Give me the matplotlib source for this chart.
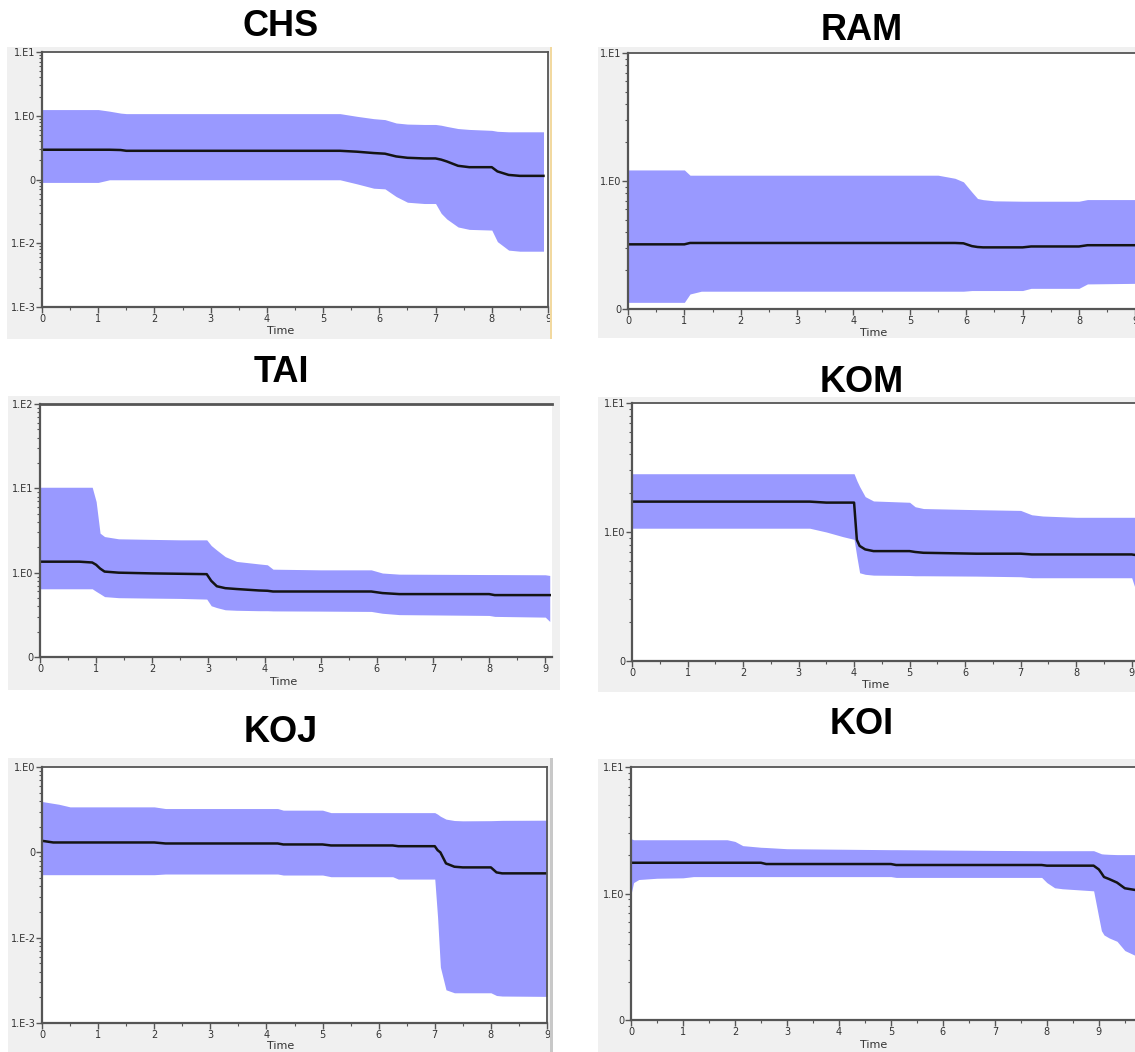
import numpy as np
import matplotlib.pyplot as plt
from matplotlib.patches import Rectangle
from matplotlib.ticker import LogLocator, NullFormatter, MultipleLocator

# ---- data ----
chs_t = [0, 1.0, 1.2, 1.4, 1.5, 5.3, 5.6, 5.9, 6.1, 6.3, 6.5, 6.8, 7.0, 7.1, 7.2, 7.4, 7.6, 8.0, 8.1, 8.3, 8.5, 8.92]
chs_upper = [1.25, 1.25, 1.18, 1.10, 1.08, 1.08, 0.98, 0.90, 0.87, 0.77, 0.74, 0.73, 0.73, 0.71, 0.68, 0.63, 0.61, 0.59, 0.57, 0.56, 0.56, 0.56]
chs_median = [0.293, 0.293, 0.293, 0.29, 0.282, 0.282, 0.273, 0.26, 0.254, 0.23, 0.219, 0.214, 0.214, 0.205, 0.192, 0.164, 0.156, 0.156, 0.134, 0.118, 0.114, 0.114]
chs_lower = [0.09, 0.09, 0.099, 0.099, 0.099, 0.099, 0.0855, 0.073, 0.0713, 0.054, 0.044, 0.042, 0.042, 0.0295, 0.024, 0.018, 0.0165, 0.0161, 0.0106, 0.0078, 0.0075, 0.0075]

ram_t = [0, 1.0, 1.1, 1.3, 5.5, 5.8, 5.95, 6.1, 6.2, 6.3, 6.5, 7.0, 7.15, 8.0, 8.15, 9.2]
ram_upper = [1.22, 1.22, 1.11, 1.11, 1.11, 1.05, 0.985, 0.82, 0.73, 0.715, 0.70, 0.695, 0.695, 0.695, 0.716, 0.716]
ram_median = [0.32, 0.32, 0.328, 0.328, 0.328, 0.328, 0.326, 0.31, 0.305, 0.303, 0.303, 0.303, 0.308, 0.308, 0.315, 0.315]
ram_lower = [0.1127, 0.1127, 0.131, 0.1377, 0.1377, 0.1377, 0.1377, 0.1394, 0.1394, 0.1394, 0.1394, 0.1394, 0.145, 0.145, 0.157, 0.159]

tai_t = [0, 0.7, 0.93, 1.0, 1.07, 1.15, 1.4, 2.0, 2.5, 2.97, 3.05, 3.15, 3.3, 3.5, 3.9, 4.05, 4.15, 5.0, 5.9, 6.1, 6.4, 8.0, 8.1, 9.0, 9.08]
tai_upper = [10.3, 10.3, 10.3, 6.97, 2.94, 2.68, 2.52, 2.48, 2.45, 2.45, 2.1, 1.85, 1.55, 1.36, 1.27, 1.24, 1.10, 1.08, 1.08, 0.99, 0.96, 0.95, 0.95, 0.944, 0.927]
tai_median = [1.35, 1.35, 1.32, 1.24, 1.12, 1.03, 1.0, 0.98, 0.97, 0.96, 0.80, 0.69, 0.655, 0.64, 0.615, 0.61, 0.598, 0.598, 0.598, 0.573, 0.557, 0.557, 0.542, 0.542, 0.542]
tai_lower = [0.644, 0.644, 0.644, 0.60, 0.562, 0.52, 0.505, 0.499, 0.495, 0.486, 0.405, 0.385, 0.363, 0.358, 0.354, 0.354, 0.352, 0.35, 0.347, 0.33, 0.318, 0.311, 0.303, 0.297, 0.264]

kom_t = [0, 3.2, 3.5, 3.8, 4.0, 4.05, 4.1, 4.2, 4.35, 5.0, 5.1, 5.25, 6.2, 7.0, 7.2, 7.4, 8.0, 9.0, 9.05, 9.15]
kom_upper = [2.83, 2.83, 2.83, 2.83, 2.83, 2.5, 2.25, 1.88, 1.74, 1.70, 1.57, 1.52, 1.49, 1.47, 1.36, 1.33, 1.30, 1.30, 1.30, 1.28]
kom_median = [1.72, 1.72, 1.69, 1.69, 1.69, 0.87, 0.78, 0.733, 0.711, 0.711, 0.70, 0.69, 0.679, 0.679, 0.67, 0.67, 0.67, 0.67, 0.665, 0.659]
kom_lower = [1.07, 1.07, 1.0, 0.92, 0.877, 0.643, 0.483, 0.47, 0.463, 0.46, 0.458, 0.458, 0.455, 0.45, 0.442, 0.442, 0.442, 0.442, 0.38, 0.26]

koj_t = [0, 0.2, 0.3, 0.5, 2.0, 2.2, 4.2, 4.3, 5.0, 5.15, 6.25, 6.35, 7.0, 7.05, 7.1, 7.2, 7.35, 7.5, 8.0, 8.1, 8.2, 9.0]
koj_upper = [0.394, 0.375, 0.366, 0.341, 0.341, 0.326, 0.326, 0.312, 0.312, 0.292, 0.292, 0.292, 0.292, 0.28, 0.265, 0.245, 0.236, 0.234, 0.235, 0.236, 0.237, 0.238]
koj_median = [0.1365, 0.1305, 0.1305, 0.1305, 0.1305, 0.127, 0.127, 0.1237, 0.1237, 0.1204, 0.1204, 0.118, 0.118, 0.106, 0.0998, 0.0742, 0.0678, 0.0666, 0.0666, 0.0582, 0.0567, 0.0567]
koj_lower = [0.0547, 0.0547, 0.0547, 0.0547, 0.0547, 0.0557, 0.0557, 0.0542, 0.0542, 0.0518, 0.0518, 0.0486, 0.0486, 0.0173, 0.00452, 0.00245, 0.00226, 0.00226, 0.00226, 0.0021, 0.00207, 0.00205]

koi_t = [0, 0.05, 0.15, 0.5, 1.0, 1.2, 1.85, 2.0, 2.15, 2.5, 2.6, 3.0, 5.0, 5.1, 7.0, 7.9, 8.0, 8.15, 8.3, 8.9, 9.0, 9.05, 9.1, 9.2, 9.35, 9.5, 9.8]
koi_upper = [2.71, 2.66, 2.66, 2.66, 2.66, 2.66, 2.66, 2.58, 2.39, 2.32, 2.31, 2.26, 2.22, 2.22, 2.19, 2.18, 2.18, 2.18, 2.18, 2.18, 2.10, 2.06, 2.05, 2.04, 2.03, 2.03, 2.03]
koi_median = [1.75, 1.75, 1.75, 1.75, 1.75, 1.75, 1.75, 1.75, 1.75, 1.75, 1.71, 1.71, 1.71, 1.68, 1.68, 1.68, 1.66, 1.66, 1.66, 1.66, 1.55, 1.45, 1.35, 1.30, 1.22, 1.10, 1.05]
koi_lower = [0.985, 1.22, 1.29, 1.32, 1.33, 1.36, 1.36, 1.36, 1.36, 1.36, 1.36, 1.36, 1.36, 1.34, 1.34, 1.34, 1.22, 1.11, 1.09, 1.05, 0.645, 0.508, 0.47, 0.445, 0.419, 0.354, 0.31]

W, H = 1135, 1052
BAND = '#9999ff'
BG = '#f0f0f0'
AXC = '#555555'


def fbox(x0, y0, x1, y1):
    return [x0 / W, 1 - y1 / H, (x1 - x0) / W, (y1 - y0) / H]


def dec_label(p):
    if p == -1:
        return '0'
    return '1.E%d' % p


fig = plt.figure(figsize=(W / 100, H / 100), dpi=100)
fig.patch.set_facecolor('white')

panels = [
    # name, data, bg box, plot box, xmax, decades, title xy, time xy, right spine
    ('CHS', (chs_t, chs_upper, chs_median, chs_lower), (7, 47, 551, 339), (42, 52, 548, 307), 9.0, (-3, 1), (281, 26), (281, 331), True),
    ('RAM', (ram_t, ram_upper, ram_median, ram_lower), (598, 47, 1135, 338), (628, 53, 1141, 309), 9.1, (-1, 1), (862, 31), (874, 333), False),
    ('TAI', (tai_t, tai_upper, tai_median, tai_lower), (8, 396, 560, 690), (40, 404, 552, 657), 9.12, (-1, 2), (281, 372), (284, 682), False),
    ('KOM', (kom_t, kom_upper, kom_median, kom_lower), (598, 397, 1135, 692), (632, 403, 1140, 661), 9.15, (-1, 1), (862, 383), (876, 685), False),
    ('KOJ', (koj_t, koj_upper, koj_median, koj_lower), (8, 758, 552, 1052), (42, 767, 547, 1023), 9.0, (-3, 0), (281, 733), (281, 1046), True),
    ('KOI', (koi_t, koi_upper, koi_median, koi_lower), (598, 759, 1135, 1052), (631, 767, 1143, 1020), 9.85, (-1, 1), (862, 725), (874, 1045), False),
]

for name, (t, up, med, lo), bg, pb, xmax, (d0, d1), txy, lxy, rspine in panels:
    bx = fig.add_axes(fbox(*bg))
    bx.set_facecolor(BG)
    bx.set_xticks([])
    bx.set_yticks([])
    for s in bx.spines.values():
        s.set_visible(False)

    ax = fig.add_axes(fbox(*pb))
    ax.set_facecolor('white')
    ax.fill_between(t, lo, up, color=BAND, lw=0)
    ax.plot(t, med, color='#141414', lw=1.8)
    ax.set_yscale('log')
    ax.set_ylim(10.0 ** d0, 10.0 ** d1)
    ax.set_xlim(0, xmax)
    decs = list(range(d0, d1 + 1))
    ax.set_yticks([10.0 ** p for p in decs])
    ax.set_yticklabels([dec_label(p) for p in decs])
    ax.yaxis.set_minor_locator(LogLocator(base=10, subs=range(2, 10)))
    ax.yaxis.set_minor_formatter(NullFormatter())
    ax.set_xticks(range(0, 10))
    ax.xaxis.set_minor_locator(MultipleLocator(0.5))
    ax.tick_params(which='both', direction='out', color=AXC, labelsize=7,
                   labelcolor='#333333', pad=1)
    ax.tick_params(which='major', length=4, width=1)
    ax.tick_params(which='minor', length=2, width=0.8)
    ax.tick_params(axis='y', which='major', pad=0.5)
    ax.spines['left'].set_color(AXC)
    ax.spines['left'].set_linewidth(1.6)
    ax.spines['bottom'].set_color(AXC)
    ax.spines['bottom'].set_linewidth(1.6)
    ax.spines['top'].set_color(AXC)
    ax.spines['top'].set_linewidth(2.0 if name == 'TAI' else 1.3)
    ax.spines['right'].set_visible(rspine)
    ax.spines['right'].set_color(AXC)
    ax.spines['right'].set_linewidth(1.3)

    fig.text(txy[0] / W, 1 - txy[1] / H, name, ha='center', va='center',
             fontsize=26, fontweight='bold', family='Liberation Sans')
    fig.text(lxy[0] / W, 1 - lxy[1] / H, 'Time', ha='center', va='center',
             fontsize=8, color='#333333')

# screenshot edges: yellow frame line (CHS) and scroll bar (KOJ)
fig.patches.append(Rectangle((550 / W, 1 - 339 / H), 2 / W, 292 / H,
                             transform=fig.transFigure, color='#f2d9a0', lw=0))
fig.patches.append(Rectangle((550 / W, 0), 3 / W, 294 / H,
                             transform=fig.transFigure, color='#c8c8c8', lw=0))

fig.savefig('out.png', dpi=100, facecolor='white')
